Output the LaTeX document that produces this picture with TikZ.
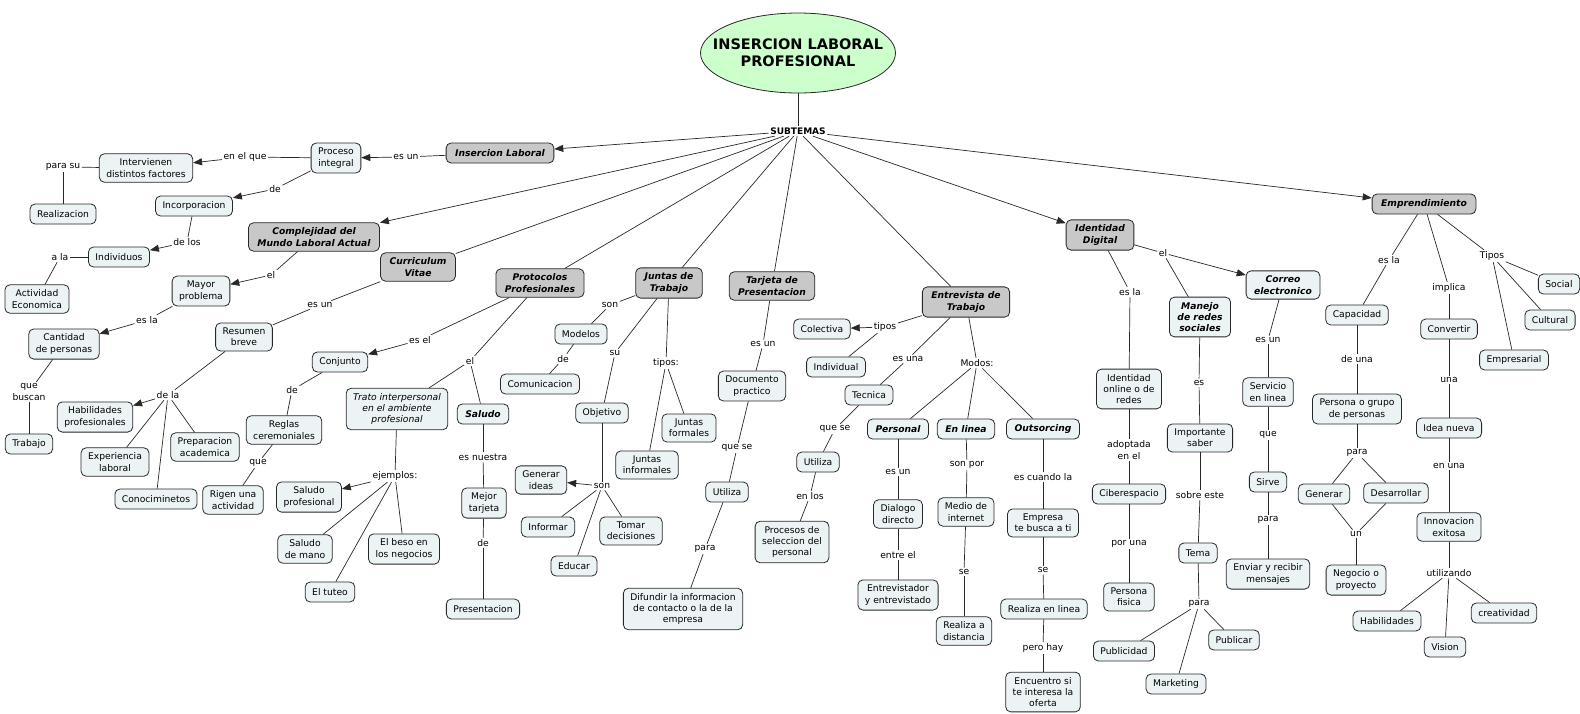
\documentclass[tikz,border=0pt]{standalone}
\usepackage{fontspec}
\setmainfont{DejaVu Sans}
\usetikzlibrary{shapes.geometric,arrows.meta}

\definecolor{cfill}{RGB}{236,243,245}
\definecolor{mfill}{RGB}{200,200,200}
\definecolor{tfill}{RGB}{204,255,204}
\definecolor{lnk}{RGB}{40,40,40}

\begin{document}
\begin{tikzpicture}[x=1pt,y=-1pt,
	every node/.style={font=\fontsize{9.2}{11.3}\selectfont, align=center},
	concept/.style={draw=lnk, line width=0.8pt, fill=cfill, rounded corners=5pt, inner xsep=7pt, inner ysep=5pt, minimum height=20pt},
	cmain/.style={concept, fill=mfill, inner xsep=9pt, font=\fontsize{9.2}{11.3}\selectfont\bfseries\itshape},
	ckey/.style={concept, inner xsep=8pt, font=\fontsize{9.2}{11.3}\selectfont\bfseries\itshape},
	citalic/.style={concept, font=\fontsize{9.2}{11.3}\selectfont\itshape},
	lbl/.style={inner sep=1.5pt},
	link/.style={draw=lnk, line width=0.7pt},
	arr/.style={link, -{Triangle[length=9pt,width=7pt]}}]
	\useasboundingbox (0,0) rectangle (1580,713);

	\node[ellipse, draw=lnk, line width=0.8pt, fill=tfill, inner xsep=-17pt, inner ysep=11pt, minimum width=195pt, minimum height=80pt, font=\fontsize{14.5}{17}\selectfont\bfseries] (titulo) at (798,53) {INSERCION LABORAL\\PROFESIONAL};
	\node[lbl, font=\fontsize{9}{11}\selectfont\bfseries] (subtemas) at (798,131) {SUBTEMAS};

	% Insercion Laboral
	\node[cmain] (insercion) at (500,153) {Insercion Laboral};
	\node[lbl] (esun1) at (406,157) {es un};
	\node[concept] (proceso) at (336,158) {Proceso\\integral};
	\node[lbl] (enelque) at (245,157) {en el que};
	\node[concept] (intervienen) at (146,168) {Intervienen\\distintos factores};
	\node[lbl] (parasu) at (63,167) {para su};
	\node[concept] (realizacion) at (63,214) {Realizacion};
	\node[lbl] (de1) at (275,189) {de};
	\node[concept] (incorporacion) at (194,206) {Incorporacion};
	\node[lbl] (delos) at (187,242) {de los};
	\node[concept] (individuos) at (119,257) {Individuos};
	\node[lbl] (ala) at (60,257) {a la};
	\node[concept] (actividad) at (37,299) {Actividad\\Economica};

	% Complejidad
	\node[cmain] (complejidad) at (314,237) {Complejidad del\\Mundo Laboral Actual};
	\node[lbl] (el1) at (271,275) {el};
	\node[concept] (mayor) at (201,291) {Mayor\\problema};
	\node[lbl] (esla1) at (147,320) {es la};
	\node[concept] (cantidad) at (64,344) {Cantidad\\de personas};
	\node[lbl] (quebuscan) at (29,392) {que\\buscan};
	\node[concept] (trabajo) at (29,444) {Trabajo};

	% Curriculum
	\node[cmain] (curriculum) at (418,267) {Curriculum\\Vitae};
	\node[lbl] (esun2) at (320,305) {es un};
	\node[concept] (resumen) at (244,337) {Resumen\\breve};
	\node[lbl] (dela) at (168,395) {de la};
	\node[concept] (habilidades) at (95,417) {Habilidades\\profesionales};
	\node[concept] (experiencia) at (115,462) {Experiencia\\laboral};
	\node[concept] (conocimientos) at (156,499) {Conociminetos};
	\node[concept] (preparacion) at (205,447) {Preparacion\\academica};

	% Protocolos
	\node[cmain] (protocolos) at (540,283) {Protocolos\\Profesionales};
	\node[lbl] (esel) at (420,340) {es el};
	\node[concept] (conjunto) at (340,362) {Conjunto};
	\node[lbl] (de2) at (292,390) {de};
	\node[concept] (reglas) at (284,430) {Reglas\\ceremoniales};
	\node[lbl] (que1) at (258,463) {que};
	\node[concept] (rigen) at (233,500) {Rigen una\\actividad};
	\node[lbl] (el2) at (470,361) {el};
	\node[citalic] (trato) at (397,409) {Trato interpersonal\\en el ambiente\\profesional};
	\node[ckey] (saludo) at (483,414) {Saludo};
	\node[lbl] (ejemplos) at (395,476) {ejemplos:};
	\node[concept] (saludoprof) at (309,497) {Saludo\\profesional};
	\node[concept] (saludomano) at (305,549) {Saludo\\de mano};
	\node[concept] (tuteo) at (330,592) {El tuteo};
	\node[concept] (beso) at (404,549) {El beso en\\los negocios};
	\node[lbl] (esnuestra) at (483,457) {es nuestra};
	\node[concept] (mejor) at (484,503) {Mejor\\tarjeta};
	\node[lbl] (de3) at (483,543) {de};
	\node[concept] (presentacion) at (483,609) {Presentacion};

	% Juntas
	\node[cmain] (juntas) at (669,283) {Juntas de\\Trabajo};
	\node[lbl] (son1) at (610,305) {son};
	\node[concept] (modelos) at (581,334) {Modelos};
	\node[lbl] (de4) at (563,359) {de};
	\node[concept] (comunicacion) at (540,384) {Comunicacion};
	\node[lbl] (su) at (615,353) {su};
	\node[concept] (objetivo) at (602,413) {Objetivo};
	\node[lbl] (son2) at (602,486) {son};
	\node[concept] (generar) at (541,480) {Generar\\ideas};
	\node[concept] (informar) at (548,527) {Informar};
	\node[concept] (educar) at (574,566) {Educar};
	\node[concept] (tomar) at (631,531) {Tomar\\decisiones};
	\node[lbl] (tipos1) at (666,363) {tipos:};
	\node[concept] (formales) at (689,428) {Juntas\\formales};
	\node[concept] (informales) at (647,465) {Juntas\\informales};

	% Tarjeta
	\node[cmain] (tarjeta) at (772,286) {Tarjeta de\\Presentacion};
	\node[lbl] (esun3) at (763,344) {es un};
	\node[concept] (documento) at (752,386) {Documento\\practico};
	\node[lbl] (quese1) at (737,448) {que se};
	\node[concept] (utiliza1) at (727,492) {Utiliza};
	\node[lbl] (para1) at (705,549) {para};
	\node[concept] (difundir) at (683,609) {Difundir la informacion\\de contacto o la de la\\empresa};

	% Entrevista
	\node[cmain] (entrevista) at (966,302) {Entrevista de\\Trabajo};
	\node[lbl] (tipos2) at (885,327) {tipos};
	\node[concept] (colectiva) at (822,329) {Colectiva};
	\node[concept] (individual) at (836,367) {Individual};
	\node[lbl] (esuna) at (908,359) {es una};
	\node[concept] (tecnica) at (869,395) {Tecnica};
	\node[lbl] (quese2) at (835,429) {que se};
	\node[concept] (utiliza2) at (818,462) {Utiliza};
	\node[lbl] (enlos) at (810,496) {en los};
	\node[concept] (procesos) at (792,542) {Procesos de\\seleccion del\\personal};
	\node[lbl] (modos) at (977,363) {Modos:};
	\node[ckey] (personal) at (898,429) {Personal};
	\node[ckey] (enlinea) at (966,429) {En linea};
	\node[ckey] (outsorcing) at (1043,429) {Outsorcing};
	\node[lbl] (esun4) at (898,472) {es un};
	\node[concept] (dialogo) at (898,514) {Dialogo\\directo};
	\node[lbl] (entreel) at (898,555) {entre el};
	\node[concept] (entrevistador) at (898,595) {Entrevistador\\y entrevistado};
	\node[lbl] (sonpor) at (967,465) {son por};
	\node[concept] (medio) at (966,512) {Medio de\\internet};
	\node[lbl] (se1) at (964,572) {se};
	\node[concept] (distancia) at (964,631) {Realiza a\\distancia};
	\node[lbl] (escuando) at (1043,477) {es cuando la};
	\node[concept] (empresa) at (1043,523) {Empresa\\te busca a ti};
	\node[lbl] (se2) at (1043,570) {se};
	\node[concept] (realizalinea) at (1044,609) {Realiza en linea};
	\node[lbl] (perohay) at (1043,648) {pero hay};
	\node[concept] (encuentro) at (1043,692) {Encuentro si\\te interesa la\\oferta};

	% Identidad
	\node[cmain] (identidad) at (1100,235) {Identidad\\Digital};
	\node[lbl] (esla2) at (1130,292) {es la};
	\node[concept] (online) at (1129,389) {Identidad\\online o de\\redes};
	\node[lbl] (adoptada) at (1129,450) {adoptada\\en el};
	\node[concept] (ciberespacio) at (1129,494) {Ciberespacio};
	\node[lbl] (poruna) at (1129,544) {por una};
	\node[concept] (fisica) at (1129,597) {Persona\\fisica};
	\node[lbl] (el3) at (1163,253) {el};
	\node[ckey] (manejo) at (1200,317) {Manejo\\de redes\\sociales};
	\node[ckey] (correo) at (1283,285) {Correo\\electronico};
	\node[lbl] (es1) at (1199,383) {es};
	\node[concept] (importante) at (1200,438) {Importante\\saber};
	\node[lbl] (sobreeste) at (1200,495) {sobre este};
	\node[concept] (tema) at (1198,553) {Tema};
	\node[lbl] (para2) at (1199,604) {para};
	\node[concept] (publicidad) at (1124,651) {Publicidad};
	\node[concept] (marketing) at (1176,684) {Marketing};
	\node[concept] (publicar) at (1234,640) {Publicar};
	\node[lbl] (esun5) at (1268,340) {es un};
	\node[concept] (servicio) at (1268,392) {Servicio\\en linea};
	\node[lbl] (que2) at (1268,435) {que};
	\node[concept] (sirve) at (1268,482) {Sirve};
	\node[lbl] (para3) at (1268,520) {para};
	\node[concept] (enviar) at (1268,574) {Enviar y recibir\\mensajes};

	% Emprendimiento
	\node[cmain] (emprendimiento) at (1424,204) {Emprendimiento};
	\node[lbl] (esla3) at (1389,260) {es la};
	\node[concept] (capacidad) at (1357,315) {Capacidad};
	\node[lbl] (deuna) at (1357,359) {de una};
	\node[concept] (persona) at (1357,409) {Persona o grupo\\de personas};
	\node[lbl] (para4) at (1357,453) {para};
	\node[concept] (generar2) at (1324,494) {Generar};
	\node[concept] (desarrollar) at (1396,493) {Desarrollar};
	\node[lbl] (un) at (1356,534) {un};
	\node[concept] (negocio) at (1356,580) {Negocio o\\proyecto};
	\node[lbl] (implica) at (1449,288) {implica};
	\node[concept] (convertir) at (1449,329) {Convertir};
	\node[lbl] (una) at (1449,380) {una};
	\node[concept] (idea) at (1449,428) {Idea nueva};
	\node[lbl] (enuna) at (1449,466) {en una};
	\node[concept] (innovacion) at (1449,527) {Innovacion\\exitosa};
	\node[lbl] (utilizando) at (1449,573) {utilizando};
	\node[concept] (habil2) at (1387,621) {Habilidades};
	\node[concept] (vision) at (1445,647) {Vision};
	\node[concept] (creatividad) at (1504,613) {creatividad};
	\node[lbl] (tipos3) at (1492,256) {Tipos};
	\node[concept] (social) at (1559,284) {Social};
	\node[concept] (cultural) at (1550,320) {Cultural};
	\node[concept] (empresarial) at (1514,360) {Empresarial};

	% conectores
	\draw[link] (titulo) -- (subtemas);
	\draw[arr] (subtemas) -- (insercion);
	\draw[arr] (subtemas) -- (complejidad);
	\draw[link] (subtemas) -- (curriculum);
	\draw[link] (subtemas) -- (protocolos);
	\draw[link] (subtemas) -- (juntas);
	\draw[link] (subtemas) -- (tarjeta);
	\draw[link] (subtemas) -- (entrevista);
	\draw[arr] (subtemas) -- (identidad);
	\draw[arr] (subtemas) -- (emprendimiento);

	\draw[link] (insercion) -- (esun1); \draw[arr] (esun1) -- (proceso);
	\draw[link] (proceso) -- (enelque); \draw[arr] (enelque) -- (intervienen);
	\draw[link] (intervienen) -- (parasu); \draw[link] (parasu) -- (realizacion);
	\draw[link] (proceso) -- (de1); \draw[arr] (de1) -- (incorporacion);
	\draw[link] (incorporacion) -- (delos); \draw[arr] (delos) -- (individuos);
	\draw[link] (individuos) -- (ala); \draw[link] (ala) -- (actividad);

	\draw[link] (complejidad) -- (el1); \draw[arr] (el1) -- (mayor);
	\draw[link] (mayor) -- (esla1); \draw[arr] (esla1) -- (cantidad);
	\draw[link] (cantidad) -- (quebuscan); \draw[link] (quebuscan) -- (trabajo);

	\draw[link] (curriculum) -- (esun2); \draw[link] (esun2) -- (resumen);
	\draw[link] (resumen) -- (dela); \draw[arr] (dela) -- (habilidades);
	\draw[link] (dela) -- (experiencia);
	\draw[link] (dela) -- (conocimientos);
	\draw[link] (dela) -- (preparacion);

	\draw[link] (protocolos) -- (esel); \draw[arr] (esel) -- (conjunto);
	\draw[link] (conjunto) -- (de2); \draw[link] (de2) -- (reglas);
	\draw[link] (reglas) -- (que1); \draw[link] (que1) -- (rigen);
	\draw[link] (protocolos) -- (el2); \draw[link] (el2) -- (trato); \draw[link] (el2) -- (saludo);
	\draw[link] (trato) -- (ejemplos); \draw[arr] (ejemplos) -- (saludoprof);
	\draw[link] (ejemplos) -- (saludomano);
	\draw[link] (ejemplos) -- (tuteo);
	\draw[link] (ejemplos) -- (beso);
	\draw[link] (saludo) -- (esnuestra); \draw[link] (esnuestra) -- (mejor);
	\draw[link] (mejor) -- (de3); \draw[link] (de3) -- (presentacion);

	\draw[link] (juntas) -- (son1); \draw[link] (son1) -- (modelos);
	\draw[link] (modelos) -- (de4); \draw[link] (de4) -- (comunicacion);
	\draw[link] (juntas) -- (su); \draw[link] (su) -- (objetivo);
	\draw[link] (objetivo) -- (son2); \draw[arr] (son2) -- (generar);
	\draw[link] (son2) -- (informar);
	\draw[link] (son2) -- (educar);
	\draw[link] (son2) -- (tomar);
	\draw[link] (juntas) -- (tipos1); \draw[link] (tipos1) -- (formales); \draw[link] (tipos1) -- (informales);

	\draw[link] (tarjeta) -- (esun3); \draw[link] (esun3) -- (documento);
	\draw[link] (documento) -- (quese1); \draw[link] (quese1) -- (utiliza1);
	\draw[link] (utiliza1) -- (para1); \draw[link] (para1) -- (difundir);

	\draw[link] (entrevista) -- (tipos2); \draw[arr] (tipos2) -- (colectiva); \draw[link] (tipos2) -- (individual);
	\draw[link] (entrevista) -- (esuna); \draw[link] (esuna) -- (tecnica);
	\draw[link] (tecnica) -- (quese2); \draw[link] (quese2) -- (utiliza2);
	\draw[link] (utiliza2) -- (enlos); \draw[link] (enlos) -- (procesos);
	\draw[link] (entrevista) -- (modos);
	\draw[link] (modos) -- (personal); \draw[link] (modos) -- (enlinea); \draw[link] (modos) -- (outsorcing);
	\draw[link] (personal) -- (esun4); \draw[link] (esun4) -- (dialogo);
	\draw[link] (dialogo) -- (entreel); \draw[link] (entreel) -- (entrevistador);
	\draw[link] (enlinea) -- (sonpor); \draw[link] (sonpor) -- (medio);
	\draw[link] (medio) -- (se1); \draw[link] (se1) -- (distancia);
	\draw[link] (outsorcing) -- (escuando); \draw[link] (escuando) -- (empresa);
	\draw[link] (empresa) -- (se2); \draw[link] (se2) -- (realizalinea);
	\draw[link] (realizalinea) -- (perohay); \draw[link] (perohay) -- (encuentro);

	\draw[link] (identidad) -- (esla2); \draw[link] (esla2) -- (online);
	\draw[link] (online) -- (adoptada); \draw[link] (adoptada) -- (ciberespacio);
	\draw[link] (ciberespacio) -- (poruna); \draw[link] (poruna) -- (fisica);
	\draw[link] (identidad) -- (el3); \draw[link] (el3) -- (manejo); \draw[arr] (el3) -- (correo);
	\draw[link] (manejo) -- (es1); \draw[link] (es1) -- (importante);
	\draw[link] (importante) -- (sobreeste); \draw[link] (sobreeste) -- (tema);
	\draw[link] (tema) -- (para2);
	\draw[link] (para2) -- (publicidad); \draw[link] (para2) -- (marketing); \draw[link] (para2) -- (publicar);
	\draw[link] (correo) -- (esun5); \draw[link] (esun5) -- (servicio);
	\draw[link] (servicio) -- (que2); \draw[link] (que2) -- (sirve);
	\draw[link] (sirve) -- (para3); \draw[link] (para3) -- (enviar);

	\draw[link] (emprendimiento) -- (esla3); \draw[link] (esla3) -- (capacidad);
	\draw[link] (capacidad) -- (deuna); \draw[link] (deuna) -- (persona);
	\draw[link] (persona) -- (para4);
	\draw[link] (para4) -- (generar2); \draw[link] (para4) -- (desarrollar);
	\draw[link] (generar2) -- (un); \draw[link] (desarrollar) -- (un); \draw[link] (un) -- (negocio);
	\draw[link] (emprendimiento) -- (implica); \draw[link] (implica) -- (convertir);
	\draw[link] (convertir) -- (una); \draw[link] (una) -- (idea);
	\draw[link] (idea) -- (enuna); \draw[link] (enuna) -- (innovacion);
	\draw[link] (innovacion) -- (utilizando);
	\draw[link] (utilizando) -- (habil2); \draw[link] (utilizando) -- (vision); \draw[link] (utilizando) -- (creatividad);
	\draw[link] (emprendimiento) -- (tipos3);
	\draw[link] (tipos3) -- (social); \draw[link] (tipos3) -- (cultural); \draw[link] (tipos3) -- (empresarial);
\end{tikzpicture}
\end{document}
